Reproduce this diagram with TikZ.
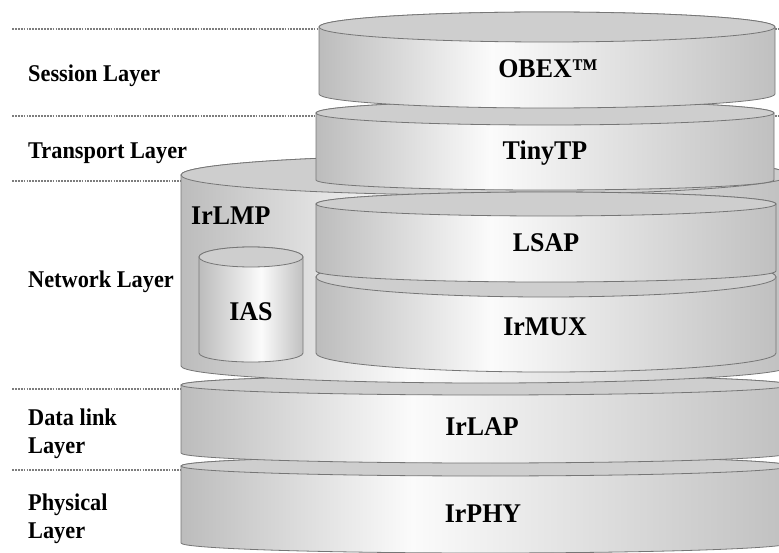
\documentclass[tikz,border=0pt]{standalone}
\usepackage{fontspec}
\setmainfont{Liberation Serif}
\newfontfamily\sidefont[FakeStretch=0.93]{Liberation Serif}
\newfontfamily\protofont[FakeStretch=0.96]{Liberation Serif}

\definecolor{edgegray}{RGB}{118,118,118}
\definecolor{topgray}{RGB}{206,206,206}
\definecolor{dotgray}{RGB}{125,125,125}
\definecolor{bodyL}{RGB}{188,188,188}
\definecolor{bodyW}{RGB}{251,251,251}
\definecolor{bodyR}{RGB}{192,192,192}

% side of a drum: grey at the edges, bright a little left of the middle
\pgfdeclarehorizontalshading{drumshade}{100bp}{color(0bp)=(bodyL); color(25bp)=(bodyL); color(44bp)=(bodyW); color(75bp)=(bodyR); color(100bp)=(bodyR)}
\pgfdeclarehorizontalshading{canshade}{100bp}{color(0bp)=(bodyL); color(25bp)=(bodyL); color(55bp)=(bodyW); color(75bp)=(bodyR); color(100bp)=(bodyR)}

\tikzset{
  layerlbl/.style={font=\sidefont\bfseries\fontsize{24}{28}\selectfont, anchor=base west, inner sep=0pt},
  protolbl/.style={font=\protofont\bfseries\fontsize{27}{32}\selectfont, anchor=base, inner sep=0pt},
  drumbody/.style={draw=edgegray, line width=0.8pt},
  drumtop/.style={draw=edgegray, line width=0.8pt, fill=topgray},
  guide/.style={draw=dotgray, line width=2pt, dash pattern=on 1.8pt off 1.1pt},
}

% \drum{name}{x left}{x right}{y top}{y bottom}{top radius}{bottom radius}{shading}
% (y values grow downwards)
\newcommand\drum[8]{%
  \pgfmathsetmacro\drumcx{(#2+#3)/2}%
  \pgfmathsetmacro\drumrx{(#3-#2)/2}%
  \path[drumbody, shading=#8] (#2,-#5)
    arc[start angle=180, end angle=360, x radius=\drumrx, y radius=#7]
    -- (#3,-#4)
    arc[start angle=0, end angle=180, x radius=\drumrx, y radius=#6]
    -- cycle;
  \path[drumtop] (\drumcx,-#4) ellipse [x radius=\drumrx, y radius=#6];
  \coordinate (#1) at (\drumcx,{-(#4+#5)/2});
}

\begin{document}
\begin{tikzpicture}[x=1pt,y=1pt]
\useasboundingbox (0,0) rectangle (779,-553);
\clip (0,0) rectangle (779,-553);

% layer boundaries
\foreach \gy/\gn in {29/ga,116/gb,181/gc,389/gd,470/ge}{
  \coordinate (\gn-l) at (12,-\gy);
  \coordinate (\gn-r) at (779,-\gy);
  \draw[guide] (\gn-l) -- (\gn-r);
}

% protocol stack, from the bottom up
\drum{phy}{181}{790}{466}{543}{10}{10}{drumshade}
\drum{lap}{181}{790}{385}{453}{10}{10}{drumshade}
\drum{lmp}{181}{790}{175}{366}{20}{17}{drumshade}
\drum{ias}{199}{303}{257}{353}{10}{9}{canshade}
\drum{mux}{316}{776}{277}{353}{20}{19}{drumshade}
\drum{lsap}{316}{776}{204}{271}{12}{11}{drumshade}
\drum{tiny}{316}{774}{113}{180}{12}{10}{drumshade}
\drum{obex}{319}{775}{27}{94}{15}{14}{drumshade}

% layer names
\node[layerlbl] (tsession)   at (28,-82)  {Session Layer};
\node[layerlbl] (ttransport) at (28,-159) {Transport Layer};
\node[layerlbl] (tnetwork)   at (28,-288) {Network Layer};
\node[layerlbl] (tdata)      at (28,-425) {Data link};
\node[layerlbl] (tdata2)     at (28,-453) {Layer};
\node[layerlbl] (tphys)      at (28,-510) {Physical};
\node[layerlbl] (tphys2)     at (28,-538) {Layer};

% protocol names
\node[protolbl] (lobex) at (548,-78)  {OBEX™};
\node[protolbl] (ltiny) at (545,-160) {TinyTP};
\node[protolbl, anchor=base west] (llmp) at (191,-225) {IrLMP};
\node[protolbl] (llsap) at (546,-252) {LSAP};
\node[protolbl] (lmux)  at (545,-335) {IrMUX};
\node[protolbl] (lias)  at (251,-320) {IAS};
\node[protolbl] (llap)  at (482,-435) {IrLAP};
\node[protolbl] (lphy)  at (483,-522) {IrPHY};
\end{tikzpicture}
\end{document}
